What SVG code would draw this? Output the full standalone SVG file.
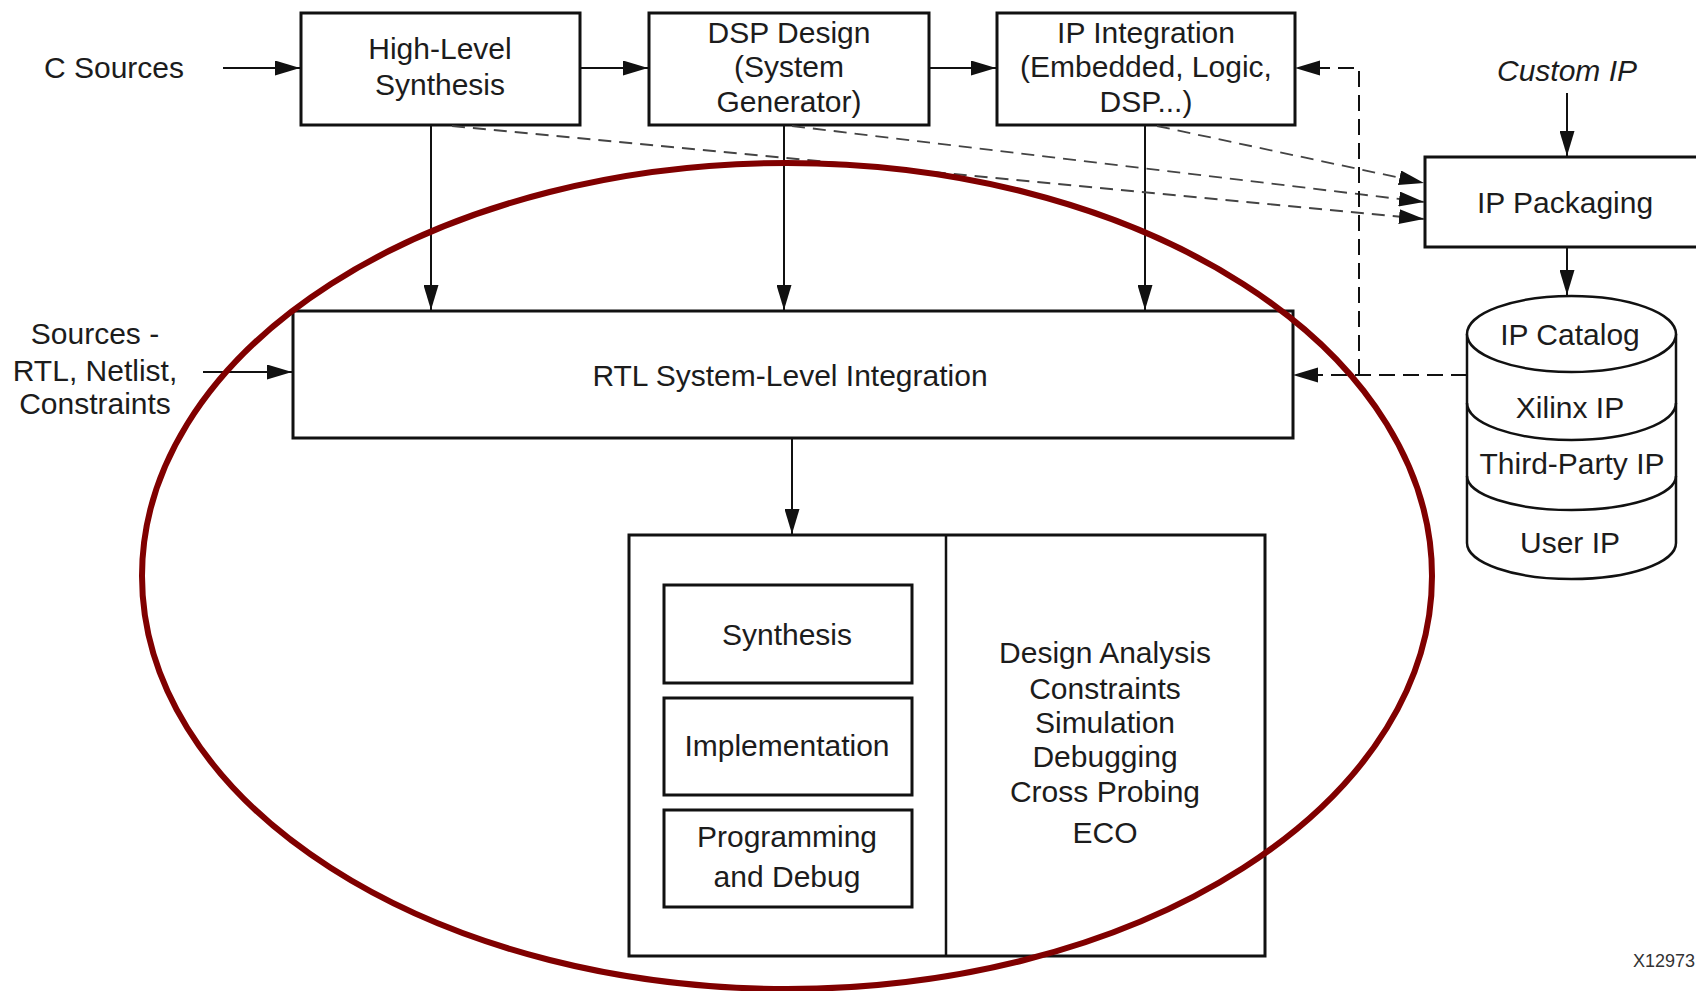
<svg xmlns="http://www.w3.org/2000/svg" width="1696" height="991" viewBox="0 0 1696 991">
  <style>
    .box { fill: #fff; stroke: #111; stroke-width: 3; }
    .thin { fill: none; stroke: #111; stroke-width: 2.5; }
    .cap { fill: #fff; stroke: #111; stroke-width: 2.5; }
    .lbl { font-family: "Liberation Sans", Arial, sans-serif; font-size: 30px; fill: #1c1c1c; text-anchor: middle; }
    .it { font-style: italic; }
    .wire { fill: none; stroke: #111; stroke-width: 2; marker-end: url(#head); }
    .dash { fill: none; stroke: #444; stroke-width: 1.8; stroke-dasharray: 13 8; marker-end: url(#head); }
    .dashk { fill: none; stroke: #111; stroke-width: 2; stroke-dasharray: 16 8; }
    .ring { fill: none; stroke: #800000; stroke-width: 6; }
    .tag { font-family: "Liberation Sans", Arial, sans-serif; font-size: 18px; fill: #333; }
  </style>
  <defs>
    <marker id="head" viewBox="0 0 25 15" refX="25" refY="7.5" markerWidth="25" markerHeight="15" markerUnits="userSpaceOnUse" orient="auto">
      <path d="M0,0 L25,7.5 L0,15 z" fill="#111"/>
    </marker>
  </defs>
  <rect width="1696" height="991" fill="#fff"/>

  <!-- free-standing input labels -->
  <g id="c-sources">
    <text class="lbl" x="114" y="78">C Sources</text>
  </g>
  <g id="rtl-sources">
    <text class="lbl" x="95" y="344">Sources -</text>
    <text class="lbl" x="95" y="381">RTL, Netlist,</text>
    <text class="lbl" x="95" y="414">Constraints</text>
  </g>
  <g id="custom-ip">
    <text class="lbl it" x="1567" y="81">Custom IP</text>
  </g>

  <!-- top row -->
  <g id="hls">
    <rect class="box" x="301" y="13" width="279" height="112"/>
    <text class="lbl" x="440" y="59">High-Level</text>
    <text class="lbl" x="440" y="95">Synthesis</text>
  </g>
  <g id="dsp">
    <rect class="box" x="649" y="13" width="280" height="112"/>
    <text class="lbl" x="789" y="43">DSP Design</text>
    <text class="lbl" x="789" y="77">(System</text>
    <text class="lbl" x="789" y="112">Generator)</text>
  </g>
  <g id="ipi">
    <rect class="box" x="997" y="13" width="298" height="112"/>
    <text class="lbl" x="1146" y="43">IP Integration</text>
    <text class="lbl" x="1146" y="77">(Embedded, Logic,</text>
    <text class="lbl" x="1146" y="112">DSP...)</text>
  </g>
  <g id="ip-packaging">
    <rect class="box" x="1425" y="157" width="290" height="90"/>
    <text class="lbl" x="1565" y="213">IP Packaging</text>
  </g>

  <!-- IP catalog store -->
  <g id="ip-catalog">
    <path class="cap" d="M1467,334 L1467,543 A104.5,36 0 0 0 1676,543 L1676,334"/>
    <ellipse class="cap" cx="1571.5" cy="334" rx="104.5" ry="38"/>
    <path class="thin" d="M1467,403 A104.5,37 0 0 0 1676,403"/>
    <path class="thin" d="M1467,476 A104.5,34 0 0 0 1676,476"/>
    <text class="lbl" x="1570" y="345">IP Catalog</text>
    <text class="lbl" x="1570" y="418">Xilinx IP</text>
    <text class="lbl" x="1572" y="474">Third-Party IP</text>
    <text class="lbl" x="1570" y="553">User IP</text>
  </g>

  <!-- integration bar -->
  <g id="rtl-integration">
    <rect class="box" x="293" y="311" width="1000" height="127"/>
    <text class="lbl" x="790" y="386">RTL System-Level Integration</text>
  </g>

  <!-- flow and analysis block -->
  <g id="flow">
    <rect class="box" x="629" y="535" width="636" height="421"/>
    <line x1="946" y1="535" x2="946" y2="956" stroke="#111" stroke-width="2.5"/>
  </g>
  <g id="synthesis">
    <rect class="box" x="664" y="585" width="248" height="98"/>
    <text class="lbl" x="787" y="645">Synthesis</text>
  </g>
  <g id="implementation">
    <rect class="box" x="664" y="698" width="248" height="97"/>
    <text class="lbl" x="787" y="756">Implementation</text>
  </g>
  <g id="programming">
    <rect class="box" x="664" y="810" width="248" height="97"/>
    <text class="lbl" x="787" y="847">Programming</text>
    <text class="lbl" x="787" y="887">and Debug</text>
  </g>
  <g id="analysis">
    <text class="lbl" x="1105" y="663">Design Analysis</text>
    <text class="lbl" x="1105" y="699">Constraints</text>
    <text class="lbl" x="1105" y="733">Simulation</text>
    <text class="lbl" x="1105" y="767">Debugging</text>
    <text class="lbl" x="1105" y="802">Cross Probing</text>
    <text class="lbl" x="1105" y="843">ECO</text>
  </g>

  <!-- connectors -->
  <g id="connectors">
    <line class="wire" x1="223" y1="68" x2="300" y2="68"/>
    <line class="wire" x1="581" y1="68" x2="648" y2="68"/>
    <line class="wire" x1="930" y1="68" x2="996" y2="68"/>
    <line class="wire" x1="431" y1="126" x2="431" y2="310"/>
    <line class="wire" x1="784" y1="126" x2="784" y2="310"/>
    <line class="wire" x1="1145" y1="126" x2="1145" y2="310"/>
    <line class="wire" x1="203" y1="372" x2="292" y2="372"/>
    <line class="wire" x1="792" y1="439" x2="792" y2="534"/>
    <line class="wire" x1="1567" y1="93" x2="1567" y2="156"/>
    <line class="wire" x1="1567" y1="248" x2="1567" y2="295"/>
    <!-- packaging feeds -->
    <line class="dash" x1="452" y1="126" x2="1424" y2="219"/>
    <line class="dash" x1="792" y1="126" x2="1424" y2="202"/>
    <line class="dash" x1="1157" y1="126" x2="1424" y2="183"/>
    <!-- catalog back into integration -->
    <path class="dashk" d="M1467,375 L1318,375"/>
    <path class="dashk" d="M1359,375 L1359,68 L1320,68"/>
    <path d="M1318,367.5 L1293,375 L1318,382.5 z" fill="#111"/>
    <path d="M1320,60.5 L1295,68 L1320,75.5 z" fill="#111"/>
  </g>

  <!-- highlight ring -->
  <g id="highlight">
    <ellipse class="ring" cx="787" cy="576" rx="645" ry="413"/>
  </g>

  <text class="tag" x="1633" y="967">X12973</text>
</svg>
